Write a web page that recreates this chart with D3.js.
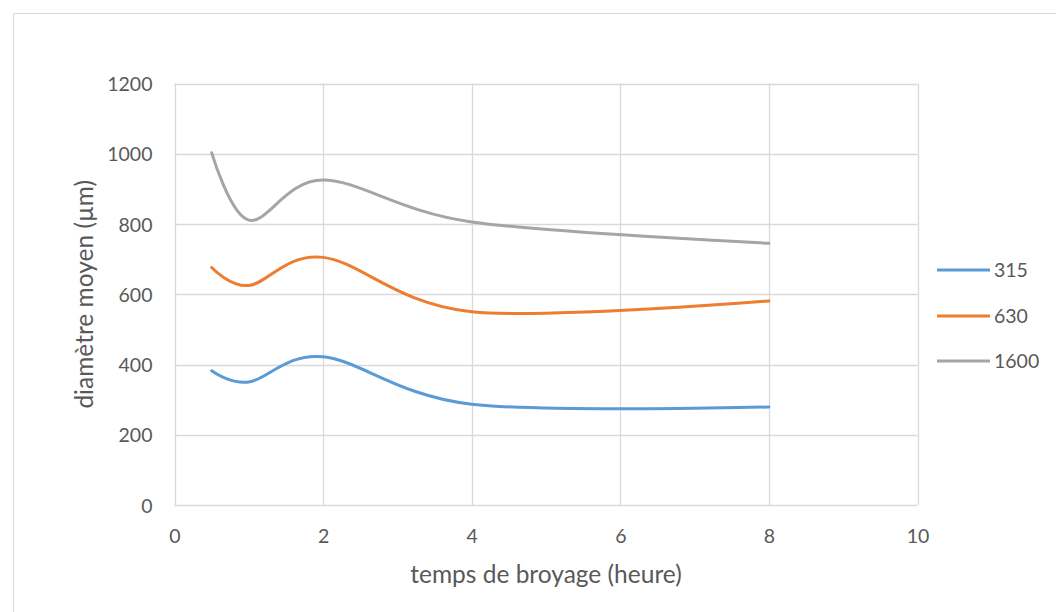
<!DOCTYPE html>
<html>
<head>
<meta charset="utf-8">
<script src="https://cdn.jsdelivr.net/npm/d3@7"></script>
<style>
  html, body { margin: 0; padding: 0; background: #fff; }
  svg { display: block; }
  text { font-family: Lato, "Open Sans", sans-serif; fill: #595959; }
</style>
</head>
<body>
<svg id="chart" width="1056" height="612"></svg>
<script>
// Data
const hours = [0.5, 1, 2, 4, 8];
const seriesNames = ["315", "630", "1600"];
const values315 = [382, 350, 422, 287, 279];
const values630 = [676, 625, 705, 550, 581];
const values1600 = [1003, 811, 925, 806, 745];
const seriesColors = ["#5B9BD5", "#ED7D31", "#A5A5A5"];
const xTicks = [0, 2, 4, 6, 8, 10];
const yTicks = [0, 200, 400, 600, 800, 1000, 1200];
const xTitle = "temps de broyage (heure)";
const yTitle = "diamètre moyen (µm)";

const allSeries = [values315, values630, values1600];

const svg = d3.select("#chart");
const W = 1056, H = 612;
const plot = { left: 174.5, right: 917.5, top: 83.5, bottom: 505 };

// Chart border
svg.append("rect")
  .attr("x", 13.5).attr("y", 13.5)
  .attr("width", W + 10).attr("height", H + 10)
  .attr("fill", "#fff").attr("stroke", "#D9D9D9").attr("stroke-width", 1);

const x = d3.scaleLinear().domain([0, 10]).range([plot.left, plot.right]);
const y = d3.scaleLinear().domain([0, 1200]).range([plot.bottom, plot.top]);

// Gridlines
const grid = svg.append("g");
grid.selectAll("line.h").data(yTicks).join("line")
  .attr("x1", plot.left).attr("x2", plot.right)
  .attr("y1", d => Math.round(y(d)) + 0.5).attr("y2", d => Math.round(y(d)) + 0.5)
  .attr("stroke", "#D9D9D9").attr("stroke-width", 1.3);
grid.selectAll("line.v").data(xTicks).join("line")
  .attr("y1", plot.top).attr("y2", plot.bottom)
  .attr("x1", d => Math.round(x(d)) + 0.5).attr("x2", d => Math.round(x(d)) + 0.5)
  .attr("stroke", "#D9D9D9").attr("stroke-width", 1.3);

// Axes (labels only)
const fmt = d3.format("d");
const xAxis = d3.axisBottom(x).tickValues(xTicks).tickFormat(fmt).tickSize(0).tickPadding(0);
const gx = svg.append("g").attr("transform", `translate(0,${plot.bottom})`).call(xAxis);
gx.select(".domain").remove();
gx.selectAll("text").attr("dy", "0.35em").attr("y", 31)
  .style("font-size", "19.5px").attr("fill", "#595959");

const yAxis = d3.axisLeft(y).tickValues(yTicks).tickFormat(fmt).tickSize(0).tickPadding(0);
const gy = svg.append("g").attr("transform", `translate(${plot.left},0)`).call(yAxis);
gy.select(".domain").remove();
gy.selectAll("text").attr("x", -22).attr("dy", "0.36em")
  .style("font-size", "19.5px").attr("fill", "#595959");

// Axis titles
svg.append("text").attr("x", 546).attr("y", 583)
  .attr("text-anchor", "middle").style("font-size", "24.5px").text(xTitle);
svg.append("text")
  .attr("transform", `translate(93,${(plot.top + plot.bottom) / 2}) rotate(-90)`)
  .attr("text-anchor", "middle").style("font-size", "24.5px").text(yTitle);

// Lines
const line = d3.line()
  .x((d, i) => x(hours[i]))
  .y(d => y(d))
  .curve(d3.curveCardinal.tension(0));

svg.append("g").selectAll("path").data(allSeries).join("path")
  .attr("d", d => line(d))
  .attr("fill", "none")
  .attr("stroke", (d, i) => seriesColors[i])
  .attr("stroke-width", 3)
  .attr("stroke-linecap", "round")
  .attr("stroke-linejoin", "round");

// Legend
const legend = svg.append("g");
const legY = [270, 316, 361];
seriesNames.forEach((name, i) => {
  legend.append("line")
    .attr("x1", 937).attr("x2", 990)
    .attr("y1", legY[i]).attr("y2", legY[i])
    .attr("stroke", seriesColors[i]).attr("stroke-width", 3);
  legend.append("text")
    .attr("x", 994).attr("y", legY[i]).attr("dy", "0.36em")
    .style("font-size", "19.5px").text(name);
});
</script>
</body>
</html>
